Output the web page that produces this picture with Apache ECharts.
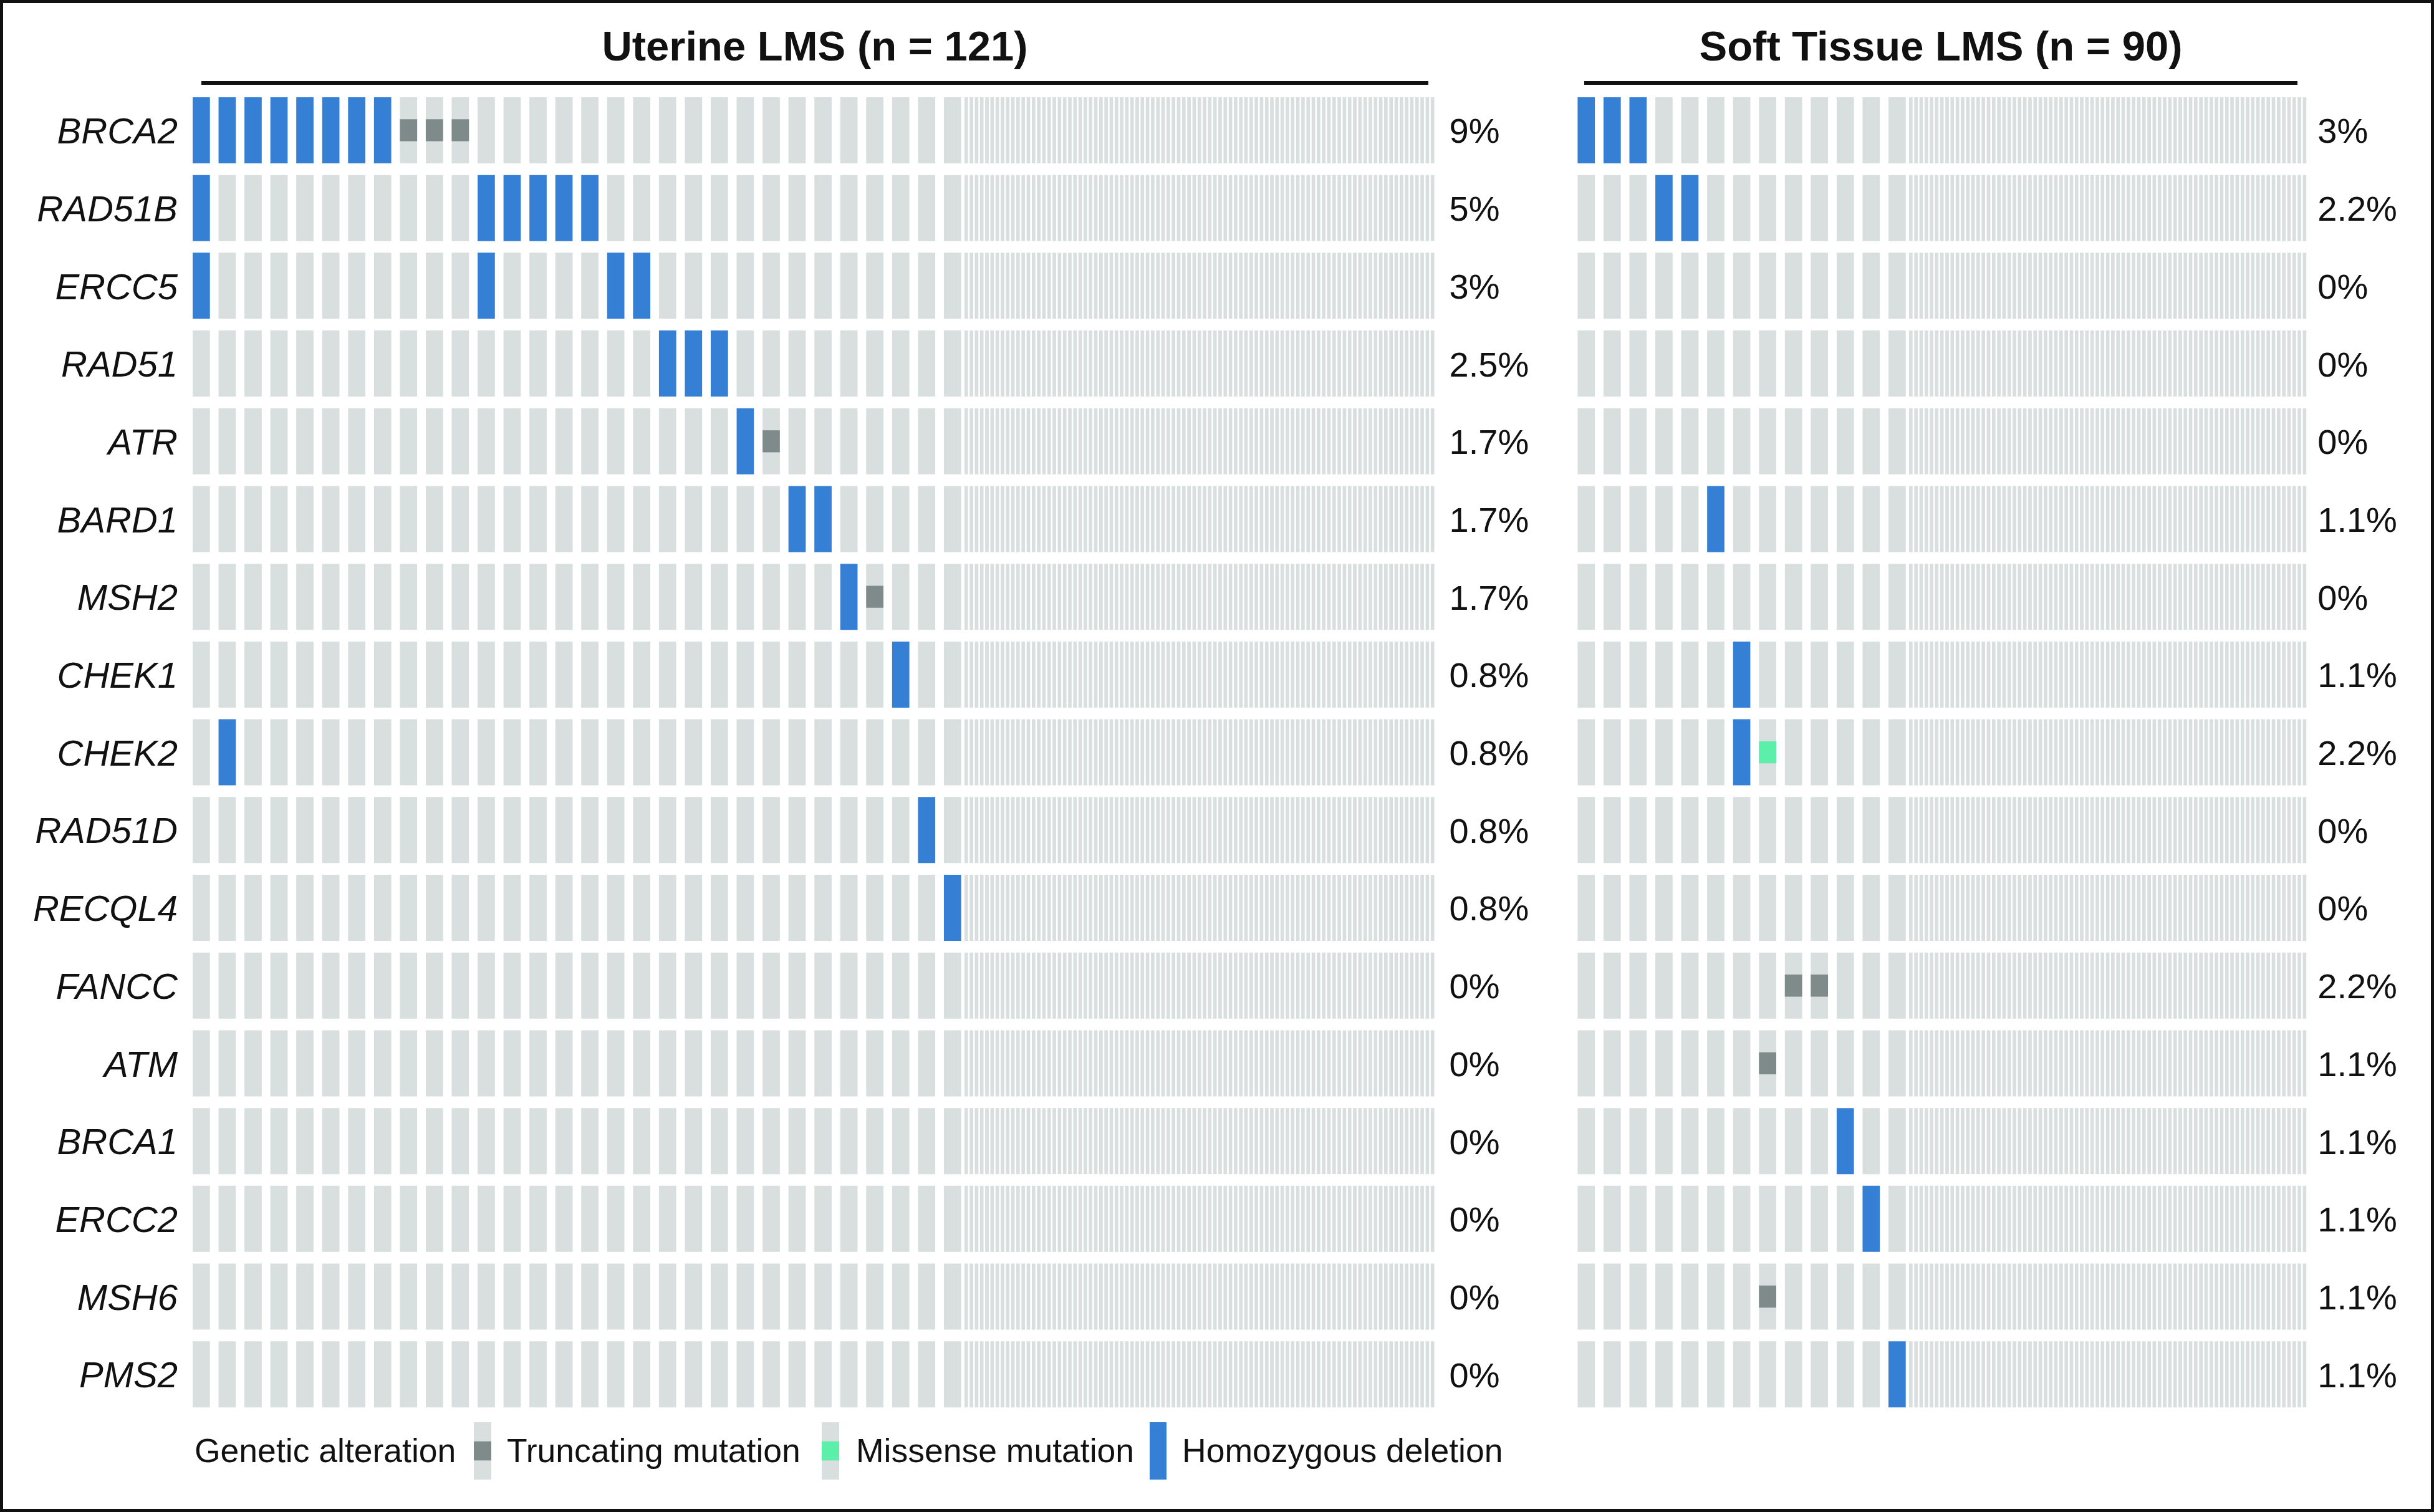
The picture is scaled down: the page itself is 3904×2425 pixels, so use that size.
<!DOCTYPE html>
<html>
<head>
    <meta charset="utf-8">
    <title>LMS oncoprint</title>
    <script src="https://cdn.jsdelivr.net/npm/echarts@6/dist/echarts.min.js"></script>
    <style>
        html, body { margin: 0; padding: 0; background: #fff; }
    </style>
</head>
<body>
    <div id="main" style="width: 3904px;height:2425px;"></div>
    <script type="text/javascript">
        // genes, one row each (top to bottom)
        var genes = ['BRCA2', 'RAD51B', 'ERCC5', 'RAD51', 'ATR', 'BARD1', 'MSH2', 'CHEK1', 'CHEK2',
            'RAD51D', 'RECQL4', 'FANCC', 'ATM', 'BRCA1', 'ERCC2', 'MSH6', 'PMS2'];

        // uterine LMS, n = 121 -- sample indices per gene row
        var uterineN = 121;
        var uterinePct = ['9%', '5%', '3%', '2.5%', '1.7%', '1.7%', '1.7%', '0.8%', '0.8%',
            '0.8%', '0.8%', '0%', '0%', '0%', '0%', '0%', '0%'];
        var uterineHomdel = [[0, 1, 2, 3, 4, 5, 6, 7], [0, 11, 12, 13, 14, 15], [0, 11, 16, 17], [18, 19, 20],
            [21], [23, 24], [25], [27], [1], [28], [29], [], [], [], [], [], []];
        var uterineTrunc = [[8, 9, 10], [], [], [], [22], [], [26], [], [], [], [], [], [], [], [], [], []];
        var uterineMissense = [[], [], [], [], [], [], [], [], [], [], [], [], [], [], [], [], []];

        // soft tissue LMS, n = 90
        var softN = 90;
        var softPct = ['3%', '2.2%', '0%', '0%', '0%', '1.1%', '0%', '1.1%', '2.2%',
            '0%', '0%', '2.2%', '1.1%', '1.1%', '1.1%', '1.1%', '1.1%'];
        var softHomdel = [[0, 1, 2], [3, 4], [], [], [], [5], [], [6], [6], [], [], [], [], [10], [11], [], [12]];
        var softTrunc = [[], [], [], [], [], [], [], [], [], [], [], [8, 9], [7], [], [], [7], []];
        var softMissense = [[], [], [], [], [], [], [], [], [7], [], [], [], [], [], [], [], []];

        var legendItems = ['Truncating mutation', 'Missense mutation', 'Homozygous deletion'];

        // colours
        var cBg = '#D9DFDE', cDel = '#3580D4', cTrunc = '#7F8B8A', cMis = '#5CEFA9', cText = '#111';
        var font = "'Liberation Sans', Arial, Helvetica, sans-serif";

        // column layout: altered samples get wide columns, the rest are squeezed
        var P = 41.55;          // px per wide column
        var WIDE_W = 0.667, FINE_STEP = 0.2, FINE_W = 0.137, FINE_OFFSET = 0.794;

        function samplePos(i, nWide) {
            return i < nWide ? i : (nWide - 1) + FINE_OFFSET + (i - nWide) * FINE_STEP;
        }

        function buildCells(n, homdel, trunc, mis) {
            var nWide = 0;
            [homdel, trunc, mis].forEach(function (arr) {
                arr.forEach(function (row) {
                    row.forEach(function (s) { nWide = Math.max(nWide, s + 1); });
                });
            });
            var cells = [];
            genes.forEach(function (g, gi) {
                for (var s = 0; s < n; s++) {
                    var t = 0;
                    if (homdel[gi].indexOf(s) >= 0) t = 1;
                    else if (trunc[gi].indexOf(s) >= 0) t = 2;
                    else if (mis[gi].indexOf(s) >= 0) t = 3;
                    cells.push([samplePos(s, nWide), gi, s < nWide ? WIDE_W : FINE_W, t]);
                }
            });
            return { cells: cells, span: samplePos(n - 1, nWide) + FINE_W };
        }

        var ut = buildCells(uterineN, uterineHomdel, uterineTrunc, uterineMissense);
        var st = buildCells(softN, softHomdel, softTrunc, softMissense);

        function renderCell(params, api) {
            var p = api.coord([api.value(0), api.value(1)]);
            var w = api.size([api.value(2), 0])[0];
            var h = api.size([0, 1])[1] * 0.85;
            var top = p[1] - h / 2;
            var t = api.value(3);
            var kids = [{ type: 'rect', shape: { x: p[0], y: top, width: w, height: h }, style: { fill: t === 1 ? cDel : cBg } }];
            if (t === 2 || t === 3) {
                kids.push({ type: 'rect', shape: { x: p[0], y: top + h / 3, width: w, height: h / 3 }, style: { fill: t === 2 ? cTrunc : cMis } });
            }
            return { type: 'group', children: kids };
        }

        var myChart = echarts.init(document.getElementById('main'), null, { renderer: 'canvas' });

        var gridTop = 146.6, gridH = 2120;
        var ut_left = 309, st_left = 2530.4;

        // labels nudged a few px below the band centre, as in the source figure
        function pctAxis(grid, data, margin) {
            return {
                type: 'category', gridIndex: grid, position: 'right', inverse: true, data: data,
                axisLine: { show: false }, axisTick: { show: false }, splitLine: { show: false },
                axisLabel: { align: 'left', verticalAlign: 'top', lineHeight: 10, margin: margin, fontSize: 56, color: cText, fontFamily: font }
            };
        }

        // legend drawn as graphic
        var legendY = 2281, legendH = 92, legendTextY = 2330, legendFs = 53.5;
        var legend = [
            { type: 'text', x: 312, y: legendTextY, style: { text: 'Genetic alteration', fontSize: legendFs, fontFamily: font, fill: cText, verticalAlign: 'middle' } },
            { type: 'rect', shape: { x: 760, y: legendY, width: 28, height: legendH }, style: { fill: cBg } },
            { type: 'rect', shape: { x: 760, y: legendY + legendH / 3, width: 28, height: legendH / 3 }, style: { fill: cTrunc } },
            { type: 'text', x: 813, y: legendTextY, style: { text: legendItems[0], fontSize: legendFs, fontFamily: font, fill: cText, verticalAlign: 'middle' } },
            { type: 'rect', shape: { x: 1318, y: legendY, width: 28, height: legendH }, style: { fill: cBg } },
            { type: 'rect', shape: { x: 1318, y: legendY + legendH / 3, width: 28, height: legendH / 3 }, style: { fill: cMis } },
            { type: 'text', x: 1373, y: legendTextY, style: { text: legendItems[1], fontSize: legendFs, fontFamily: font, fill: cText, verticalAlign: 'middle' } },
            { type: 'rect', shape: { x: 1844, y: legendY, width: 27, height: legendH }, style: { fill: cDel } },
            { type: 'text', x: 1896, y: legendTextY, style: { text: legendItems[2], fontSize: legendFs, fontFamily: font, fill: cText, verticalAlign: 'middle' } }
        ];

        var option = {
            backgroundColor: '#fff',
            animation: false,
            grid: [
                { left: ut_left, top: gridTop, width: ut.span * P, height: gridH, outerBoundsMode: 'none' },
                { left: st_left, top: gridTop, width: st.span * P, height: gridH, outerBoundsMode: 'none' }
            ],
            xAxis: [
                { type: 'value', gridIndex: 0, min: 0, max: ut.span, show: false },
                { type: 'value', gridIndex: 1, min: 0, max: st.span, show: false }
            ],
            yAxis: [
                {
                    type: 'category', gridIndex: 0, inverse: true, data: genes,
                    axisLine: { show: false }, axisTick: { show: false }, splitLine: { show: false },
                    axisLabel: { margin: 24, verticalAlign: 'top', lineHeight: 10, fontSize: 58, fontStyle: 'italic', color: cText, fontFamily: font }
                },
                pctAxis(0, uterinePct, 24),
                {
                    type: 'category', gridIndex: 1, inverse: true, data: genes,
                    axisLine: { show: false }, axisTick: { show: false }, splitLine: { show: false },
                    axisLabel: { show: false }
                },
                pctAxis(1, softPct, 18)
            ],
            series: [
                { type: 'custom', name: 'Uterine LMS', xAxisIndex: 0, yAxisIndex: 0, renderItem: renderCell, data: ut.cells, silent: true },
                { type: 'custom', name: 'Soft Tissue LMS', xAxisIndex: 1, yAxisIndex: 2, renderItem: renderCell, data: st.cells, silent: true }
            ],
            graphic: [
                { type: 'rect', shape: { x: 2.5, y: 2.5, width: 3899, height: 2420 }, style: { fill: null, stroke: '#111', lineWidth: 5 } },
                { type: 'text', x: 1307, y: 79, style: { text: 'Uterine LMS (n = 121)', fontSize: 67, fontWeight: 'bold', fontFamily: font, fill: cText, align: 'center', verticalAlign: 'middle' } },
                { type: 'text', x: 3113, y: 79, style: { text: 'Soft Tissue LMS (n = 90)', fontSize: 67, fontWeight: 'bold', fontFamily: font, fill: cText, align: 'center', verticalAlign: 'middle' } },
                { type: 'line', shape: { x1: 323, y1: 133, x2: 2291, y2: 133 }, style: { stroke: '#111', lineWidth: 6 } },
                { type: 'line', shape: { x1: 2541, y1: 133, x2: 3685, y2: 133 }, style: { stroke: '#111', lineWidth: 6 } }
            ].concat(legend)
        };

        myChart.setOption(option);
    </script>
</body>
</html>
